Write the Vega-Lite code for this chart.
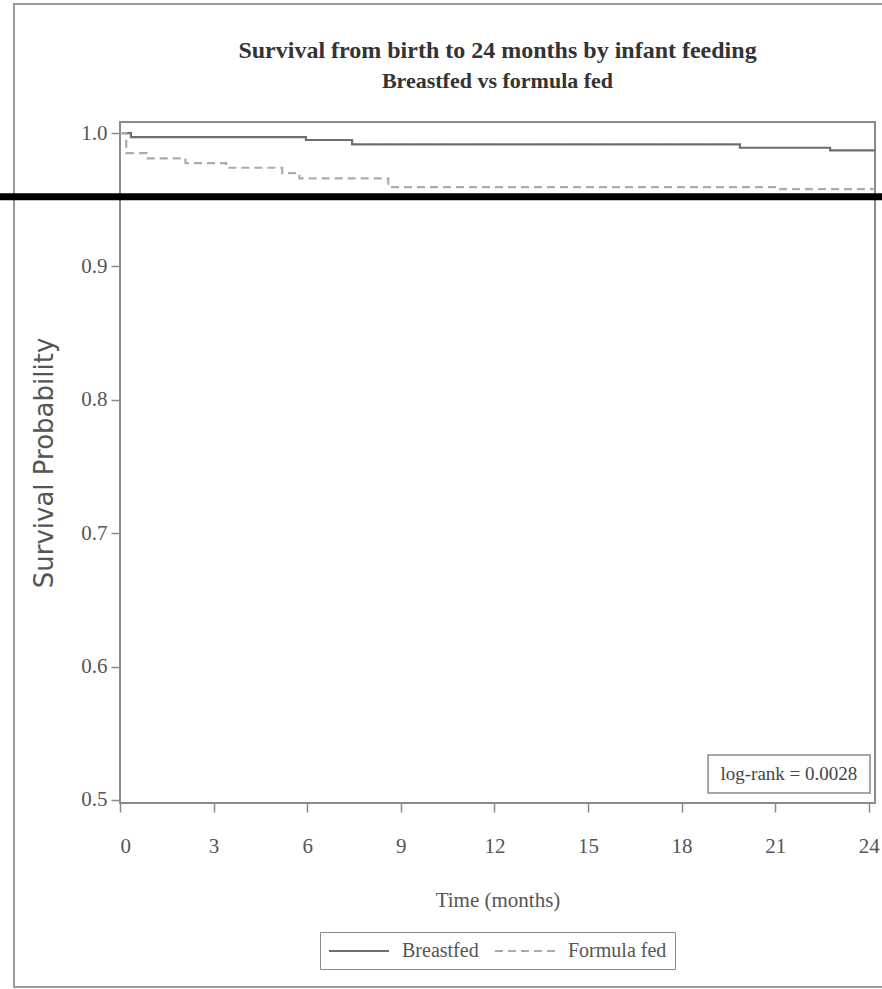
{
  "$schema": "https://vega.github.io/schema/vega-lite/v6.json",
  "autosize": "none",
  "width": 755,
  "height": 681,
  "padding": {"left": 120, "top": 122, "right": 7, "bottom": 186},
  "background": "white",
  "title": {
    "text": "Survival from birth to 24 months by infant feeding",
    "subtitle": "Breastfed vs  formula fed",
    "font": "Liberation Serif",
    "fontSize": 24,
    "fontWeight": "bold",
    "color": "#333333",
    "subtitleFont": "Liberation Serif",
    "subtitleFontSize": 22,
    "subtitleFontWeight": "bold",
    "subtitleColor": "#333333",
    "subtitlePadding": 8,
    "anchor": "middle",
    "offset": -89
  },
  "config": {
    "view": {"stroke": "#8a8a8a", "strokeWidth": 2},
    "axis": {
      "grid": false,
      "domain": false,
      "tickColor": "#8a8a8a",
      "tickWidth": 1.5,
      "tickSize": 9,
      "labelFont": "Liberation Serif",
      "labelFontSize": 21,
      "labelColor": "#555555",
      "titleColor": "#555555",
      "titleFontWeight": "normal"
    }
  },
  "data": {
    "values": [
      {"t": 0, "s": 1.0, "group": "Breastfed"},
      {"t": 0.35, "s": 0.997, "group": "Breastfed"},
      {"t": 5.96, "s": 0.9948, "group": "Breastfed"},
      {"t": 7.44, "s": 0.9915, "group": "Breastfed"},
      {"t": 19.87, "s": 0.989, "group": "Breastfed"},
      {"t": 22.76, "s": 0.987, "group": "Breastfed"},
      {"t": 24.2, "s": 0.987, "group": "Breastfed"},
      {"t": 0, "s": 1.0, "group": "Formula fed"},
      {"t": 0.2, "s": 0.985, "group": "Formula fed"},
      {"t": 0.85, "s": 0.981, "group": "Formula fed"},
      {"t": 2.1, "s": 0.9775, "group": "Formula fed"},
      {"t": 3.4, "s": 0.974, "group": "Formula fed"},
      {"t": 5.2, "s": 0.97, "group": "Formula fed"},
      {"t": 5.75, "s": 0.966, "group": "Formula fed"},
      {"t": 8.6, "s": 0.9595, "group": "Formula fed"},
      {"t": 21.05, "s": 0.958, "group": "Formula fed"},
      {"t": 24.2, "s": 0.958, "group": "Formula fed"}
    ]
  },
  "layer": [
    {
      "mark": {"type": "line", "interpolate": "step-after", "strokeWidth": 2.2},
      "encoding": {
        "x": {
          "field": "t", "type": "quantitative",
          "scale": {"domain": [0, 24.2], "nice": false, "zero": false},
          "axis": {
            "values": [0, 3, 6, 9, 12, 15, 18, 21, 24],
            "title": "Time (months)",
            "titleFont": "Liberation Serif",
            "titleFontSize": 21,
            "titlePadding": 33,
            "labelPadding": 23
          }
        },
        "y": {
          "field": "s", "type": "quantitative",
          "scale": {"domain": [0.4977, 1.0083], "nice": false, "zero": false},
          "axis": {
            "values": [0.5, 0.6, 0.7, 0.8, 0.9, 1.0],
            "format": ".1f",
            "title": "Survival Probability",
            "titleFont": "DejaVu Sans",
            "titleFontSize": 26,
            "titlePadding": 23,
            "labelPadding": 4
          }
        },
        "color": {
          "field": "group", "type": "nominal",
          "scale": {"domain": ["Breastfed", "Formula fed"], "range": ["#6e6e6e", "#ababab"]},
          "legend": {
            "orient": "none", "legendX": 200, "legendY": 810,
            "direction": "horizontal", "title": null,
            "symbolType": "M-1,0H5", "symbolSize": 400, "symbolStrokeWidth": 2,
            "labelFont": "Liberation Serif", "labelFontSize": 20, "labelColor": "#555555",
            "labelOffset": 52, "columnPadding": 12,
            "strokeColor": "#8a8a8a", "padding": 8
          }
        },
        "strokeDash": {
          "field": "group", "type": "nominal",
          "scale": {"domain": ["Breastfed", "Formula fed"], "range": [[1, 0], [8, 5]]},
          "legend": {
            "orient": "none", "legendX": 200, "legendY": 810,
            "direction": "horizontal", "title": null,
            "symbolType": "M-1,0H5", "symbolSize": 400, "symbolStrokeWidth": 2,
            "labelFont": "Liberation Serif", "labelFontSize": 20, "labelColor": "#555555",
            "labelOffset": 52, "columnPadding": 12,
            "strokeColor": "#8a8a8a", "padding": 8
          }
        }
      }
    },
    {
      "data": {"values": [{"label": "log-rank = 0.0028"}]},
      "mark": {"type": "rect", "fill": "white", "stroke": "#8a8a8a", "strokeWidth": 1.5},
      "encoding": {
        "x": {"datum": 18.85, "type": "quantitative"},
        "x2": {"datum": 24.04},
        "y": {"datum": 0.5052, "type": "quantitative"},
        "y2": {"datum": 0.5337}
      }
    },
    {
      "data": {"values": [{"label": "log-rank = 0.0028"}]},
      "mark": {"type": "text", "font": "Liberation Serif", "fontSize": 19, "color": "#444444", "align": "center", "baseline": "middle"},
      "encoding": {
        "x": {"datum": 21.44, "type": "quantitative"},
        "y": {"datum": 0.5195, "type": "quantitative"},
        "text": {"field": "label"}
      }
    },
    {
      "data": {"values": [{"k": "frame"}]},
      "mark": {"type": "rect", "fill": null, "fillOpacity": 0, "stroke": "#9a9a9a", "strokeWidth": 2, "clip": false},
      "encoding": {
        "x": {"datum": -3.397, "type": "quantitative"},
        "x2": {"datum": 24.7},
        "y": {"datum": 0.3598, "type": "quantitative"},
        "y2": {"datum": 1.0967}
      }
    },
    {
      "data": {"values": [{"k": "bar"}]},
      "mark": {"type": "rule", "color": "black", "strokeWidth": 7, "clip": false},
      "encoding": {
        "x": {"datum": -4.0, "type": "quantitative"},
        "x2": {"datum": 24.7},
        "y": {"datum": 0.9522, "type": "quantitative"}
      }
    }
  ]
}
